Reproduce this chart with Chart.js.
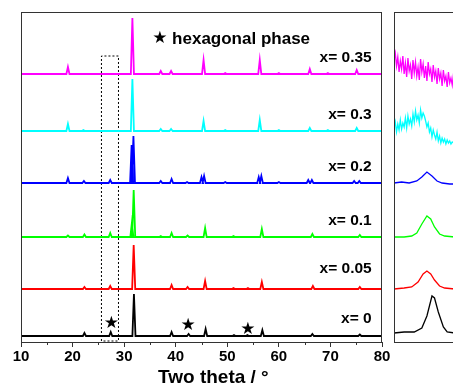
<!DOCTYPE html>
<html>
<head>
<meta charset="utf-8">
<script src="https://cdn.jsdelivr.net/npm/chart.js@4/dist/chart.umd.min.js"></script>
<style>
  html, body { margin: 0; padding: 0; background: #fff; overflow: hidden; }
  #wrap { position: relative; width: 453px; height: 385px; overflow: hidden; }
  #main { position: absolute; left: 0; top: 0; }
  #inset { position: absolute; left: 394px; top: 12px; }
</style>
</head>
<body>
<div id="wrap">
  <canvas id="main" width="453" height="385"></canvas>
  <canvas id="inset" width="80" height="331"></canvas>
</div>
<script>
// 樣品名稱 / 顏色 / 位移
const sampleNames = ['x= 0', 'x= 0.05', 'x= 0.1', 'x= 0.2', 'x= 0.3', 'x= 0.35'];
const sampleColors = ['#000000', '#ff0000', '#00ff00', '#0000ff', '#00ffff', '#ff00ff'];
const offsets = [6, 53, 105, 159, 211, 268];
const xTicks = [10, 20, 30, 40, 50, 60, 70, 80];
const xTitle = 'Two theta / °';

// 峰位 (2theta) 與 峰高
const pos_0 = [22.3, 27.4, 31.9, 39.2, 42.5, 45.8, 51.3, 53.9, 56.8, 66.5, 75.7];
const h_0 = [3, 4, 42, 4, 2, 7, 1, 1, 6, 2, 1.5];

const pos_005 = [22.3, 27.3, 31.85, 39.2, 42.3, 45.7, 51.2, 54.0, 56.7, 66.6, 75.7];
const h_005 = [2, 3, 44, 4, 2, 8, 1, 1, 7, 3, 2];

const pos_01 = [19.1, 22.3, 27.3, 31.5, 31.85, 37.1, 39.2, 42.3, 45.7, 51.2, 56.7, 66.5, 75.7];
const h_01 = [1.5, 2.5, 4, 14, 47, 1, 4, 1.5, 9, 1, 8, 3, 2];

const pos_02 = [19.1, 22.2, 27.3, 31.45, 31.8, 37.1, 39.2, 42.2, 45.0, 45.5, 49.6, 56.1, 56.6, 60.0, 65.7, 66.4, 74.6, 75.6];
const h_02 = [5, 2, 3, 38, 47, 2, 4, 1, 6, 7, 1, 6, 7, 1, 3, 3, 2, 2];

const pos_03 = [19.1, 22.1, 31.6, 37.1, 39.1, 45.4, 49.6, 56.3, 60.0, 66.0, 69.5, 75.1];
const h_03 = [7, 1, 52, 2, 2, 10, 1, 11, 1, 3, 1, 3];

const pos_035 = [19.1, 31.6, 37.1, 39.1, 45.4, 49.6, 56.3, 60.0, 66.0, 69.5, 75.1];
const h_035 = [7, 56, 3, 3, 14, 1, 14, 1, 5, 1, 4];

// 虛線框
const boxX = [25.6, 25.6, 28.9, 28.9, 25.6];
const boxY = [1, 286, 286, 1, 1];

// 星號位置
const starX = [27.5, 42.4, 54.0];
const starY = [18, 16, 12];

// 放大圖 (26 ~ 29 度)
const inset_035 = [283, 289, 276, 285, 270, 281, 273, 286, 268, 279, 265, 284, 271, 277, 263, 282, 269, 280, 266, 275, 262, 283, 270, 278, 264, 276, 261, 280, 268, 273, 260, 277, 265, 271, 258, 274, 263, 269, 256, 272, 261, 266, 255, 270, 259, 264, 257, 268, 260];
const inset_03 = [214, 220, 210, 218, 212, 222, 213, 219, 215, 224, 214, 226, 218, 223, 216, 228, 220, 231, 222, 227, 219, 232, 224, 229, 226, 221, 215, 219, 210, 214, 205, 212, 207, 203, 210, 201, 206, 199, 204, 200, 203, 198, 202, 199, 201, 198, 200, 199, 200];
const insetX_02 = [26.0, 26.3, 26.6, 26.9, 27.1, 27.3, 27.5, 27.7, 27.9, 28.2, 28.5];
const inset_02 = [159, 160, 159, 161, 165, 170, 166, 161, 159, 158, 158];
const insetX_01 = [26.0, 26.4, 26.7, 26.9, 27.1, 27.3, 27.45, 27.6, 27.8, 28.0, 28.4];
const inset_01 = [105, 105, 106, 109, 118, 126, 123, 115, 108, 106, 105];
const insetX_005 = [26.0, 26.4, 26.7, 26.95, 27.15, 27.3, 27.45, 27.6, 27.8, 28.0, 28.4];
const inset_005 = [53, 54, 55, 60, 68, 71, 68, 62, 56, 54, 53];
const insetX_0 = [26.0, 26.4, 26.8, 27.1, 27.3, 27.5, 27.6, 27.75, 27.95, 28.1, 28.4];
const inset_0 = [9, 10, 10, 14, 26, 46, 44, 30, 15, 10, 9];

const FONT = 'Arial, "Liberation Sans", sans-serif';

// 峰 -> 折線點
function make_profile(pos, h, base){
    let pts = [{x: 10, y: base}];
    for (let i = 0; i < pos.length; i++) {
        const w = 0.3;
        pts.push({x: pos[i] - w, y: base});
        pts.push({x: pos[i], y: base + h[i]});
        pts.push({x: pos[i] + w, y: base});
    }
    pts.push({x: 80, y: base});
    return pts;
}

const allPos = [pos_0, pos_005, pos_01, pos_02, pos_03, pos_035];
const allH = [h_0, h_005, h_01, h_02, h_03, h_035];

let mainSets = [];
for (let i = 0; i < 6; i++) {
    mainSets.push({
        data: make_profile(allPos[i], allH[i], offsets[i]),
        borderColor: sampleColors[i],
        borderWidth: 1.8
    });
}
mainSets.push({
    data: boxX.map((v, i) => ({x: v, y: boxY[i]})),
    borderColor: '#000000',
    borderWidth: 1,
    borderDash: [2, 2]
});

const labelY = [23, 73, 121, 175, 227, 284];

const mainDeco = {
    id: 'mainDeco',
    afterDraw(chart) {
        const c = chart.ctx;
        const a = chart.chartArea;
        const xs = chart.scales.x, ys = chart.scales.y;
        c.save();
        // 外框
        c.strokeStyle = '#333333';
        c.lineWidth = 1;
        c.strokeRect(a.left + 0.5, a.top + 0.5, a.right - a.left - 1, a.bottom - a.top);
        // 次刻度
        c.beginPath();
        for (let v = 15; v < 80; v += 10) {
            const px = Math.round(xs.getPixelForValue(v)) + 0.5;
            c.moveTo(px, a.bottom);
            c.lineTo(px, a.bottom + 3);
        }
        c.stroke();
        // 樣品標籤
        c.fillStyle = '#000000';
        c.font = 'bold 15.5px ' + FONT;
        c.textAlign = 'right';
        c.textBaseline = 'middle';
        for (let i = 0; i < 6; i++) {
            c.fillText(sampleNames[i], xs.getPixelForValue(78), ys.getPixelForValue(labelY[i]));
        }
        // 星號
        c.textAlign = 'center';
        c.font = '17px "DejaVu Sans", sans-serif';
        for (let i = 0; i < starX.length; i++) {
            c.fillText('★', xs.getPixelForValue(starX[i]), ys.getPixelForValue(starY[i]));
        }
        c.fillText('★', xs.getPixelForValue(36.95), ys.getPixelForValue(303));
        c.textAlign = 'left';
        c.font = 'bold 17px ' + FONT;
        c.fillText('hexagonal phase', xs.getPixelForValue(39.3), ys.getPixelForValue(303));
        // x 軸標題
        c.textAlign = 'center';
        c.font = 'bold 19px ' + FONT;
        c.fillText(xTitle, xs.getPixelForValue(47.3), a.bottom + 36);
        c.restore();
    }
};

new Chart(document.getElementById('main').getContext('2d'), {
    type: 'line',
    data: { datasets: mainSets },
    options: {
        responsive: false,
        animation: false,
        layout: { padding: { left: 21, right: 71, top: 12, bottom: 0 } },
        elements: { point: { radius: 0 }, line: { tension: 0 } },
        plugins: { legend: { display: false }, tooltip: { enabled: false } },
        scales: {
            x: {
                type: 'linear',
                min: 10,
                max: 80,
                afterFit: (s) => { s.height = 43; },
                afterBuildTicks: (s) => { s.ticks = xTicks.map(v => ({value: v})); },
                grid: { drawOnChartArea: false, drawTicks: true, tickLength: 5, color: '#333333' },
                border: { display: false },
                ticks: {
                    color: '#000000',
                    padding: 1,
                    maxRotation: 0,
                    font: { family: FONT, size: 15, weight: 'bold' }
                },
                title: { display: false }
            },
            y: { display: false, min: 0, max: 330 }
        }
    },
    plugins: [mainDeco]
});

// 放大圖
let insetX = [];
for (let i = 0; i < inset_035.length; i++) insetX.push(26 + i * 0.05);

const insetPairs = [
    [insetX_0, inset_0], [insetX_005, inset_005], [insetX_01, inset_01],
    [insetX_02, inset_02], [insetX, inset_03], [insetX, inset_035]
];
let insetSets = [];
for (let i = 0; i < 6; i++) {
    insetSets.push({
        data: insetPairs[i][0].map((v, k) => ({x: v, y: insetPairs[i][1][k]})),
        borderColor: sampleColors[i],
        borderWidth: 1.3
    });
}

const insetFrame = {
    id: 'insetFrame',
    afterDraw(chart) {
        const c = chart.ctx;
        const a = chart.chartArea;
        c.save();
        c.strokeStyle = '#333333';
        c.lineWidth = 1;
        c.strokeRect(a.left + 0.5, a.top + 0.5, a.right - a.left + 5, a.bottom - a.top - 1);
        c.restore();
    }
};

new Chart(document.getElementById('inset').getContext('2d'), {
    type: 'line',
    data: { datasets: insetSets },
    options: {
        responsive: false,
        animation: false,
        layout: { padding: 0 },
        elements: { point: { radius: 0 }, line: { tension: 0 } },
        plugins: { legend: { display: false }, tooltip: { enabled: false } },
        scales: {
            x: { type: 'linear', display: false, min: 26, max: 29.16 },
            y: { display: false, min: -1, max: 330 }
        }
    },
    plugins: [insetFrame]
});
</script>
</body>
</html>
